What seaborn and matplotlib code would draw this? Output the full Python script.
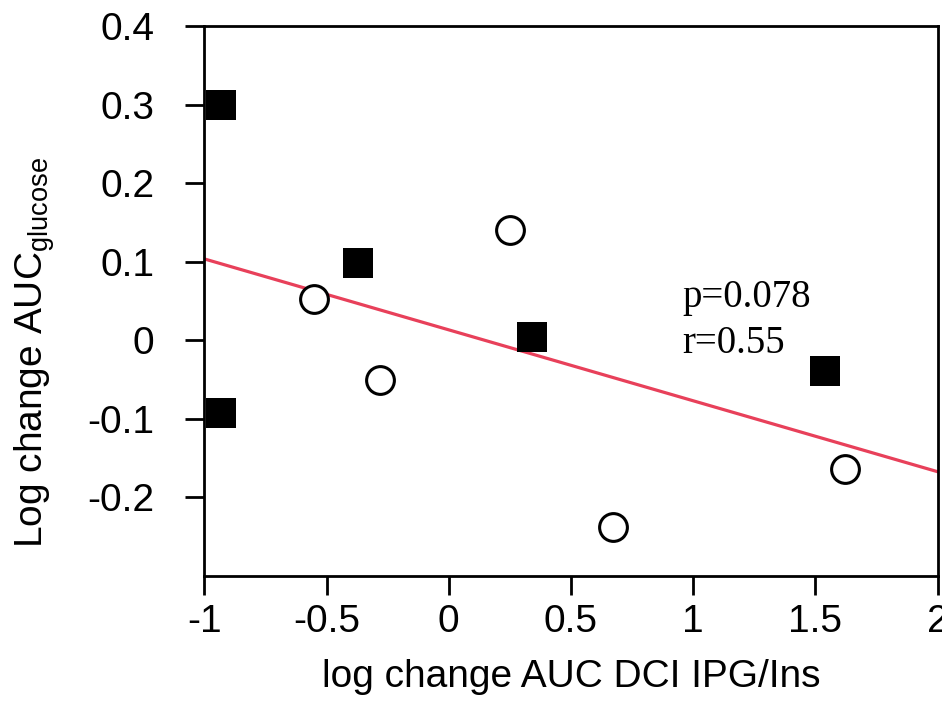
import matplotlib
matplotlib.use("Agg")
import matplotlib.pyplot as plt
import seaborn as sns
import pandas as pd
import numpy as np

# Data
square_x = [-0.93, -0.37, 0.34, 1.54, -0.93]
square_y = [0.300, 0.098, 0.004, -0.039, -0.093]
circle_x = [-0.55, -0.28, 0.25, 0.67, 1.62]
circle_y = [0.053, -0.051, 0.140, -0.238, -0.164]
x_ticks = [-1, -0.5, 0, 0.5, 1, 1.5, 2]
x_ticklabels = ["-1", "-0.5", "0", "0.5", "1", "1.5", "2"]
y_ticks = [0.4, 0.3, 0.2, 0.1, 0, -0.1, -0.2]
y_ticklabels = ["0.4", "0.3", "0.2", "0.1", "0", "-0.1", "-0.2"]
annot_lines = ["p=0.078", "r=0.55"]

sns.set_style("ticks")
plt.rcParams["font.family"] = ["Liberation Sans", "DejaVu Sans"]
plt.rcParams["mathtext.fontset"] = "custom"
plt.rcParams["mathtext.rm"] = "Liberation Sans"
plt.rcParams["text.color"] = "black"

squares = pd.DataFrame({"x": square_x, "y": square_y})
circles = pd.DataFrame({"x": circle_x, "y": circle_y})
allpts = pd.concat([squares, circles], ignore_index=True)

fig = plt.figure(figsize=(9.42, 7.04), dpi=100)
ax = fig.add_axes([0.2169, 0.1818, 0.9954 - 0.2169, 0.9631 - 0.1818])
ax.set_xlim(-1, 2)
ax.set_ylim(-0.3, 0.4)

sns.regplot(data=allpts, x="x", y="y", scatter=False, ci=None, truncate=False,
            ax=ax, line_kws={"color": "#E8405A", "lw": 2.3, "zorder": 1})
sns.scatterplot(data=squares, x="x", y="y", marker="s", s=470, color="black",
                edgecolor="black", linewidth=0, ax=ax, zorder=3)
sns.scatterplot(data=circles, x="x", y="y", marker="o", s=400, facecolor="white",
                edgecolor="black", linewidth=2.2, ax=ax, zorder=3)

ax.set_xlim(-1, 2)
ax.set_ylim(-0.3, 0.4)
ax.set_xticks(x_ticks)
ax.set_xticklabels(x_ticklabels)
ax.set_yticks(y_ticks)
ax.set_yticklabels(y_ticklabels)
ax.tick_params(axis="both", direction="out", length=14, width=2.0,
               labelsize=28, color="black", labelcolor="black")
ax.tick_params(axis="y", pad=22)
ax.tick_params(axis="x", pad=6)
for sp in ax.spines.values():
    sp.set_visible(True)
    sp.set_linewidth(2.0)
    sp.set_color("black")

ax.set_xlabel("log change AUC DCI IPG/Ins", fontsize=28, labelpad=14, color="black")
ax.set_ylabel(r"Log change AUC$_{\mathregular{glucose}}$", fontsize=28, color="black")
ax.yaxis.set_label_coords(-0.201, 0.407)

ax.text(0.955, 0.042, annot_lines[0], fontsize=28, family="Liberation Serif",
        va="baseline", color="black")
ax.text(0.955, -0.016, annot_lines[1], fontsize=28, family="Liberation Serif",
        va="baseline", color="black")

fig.savefig("out.png", dpi=100)
